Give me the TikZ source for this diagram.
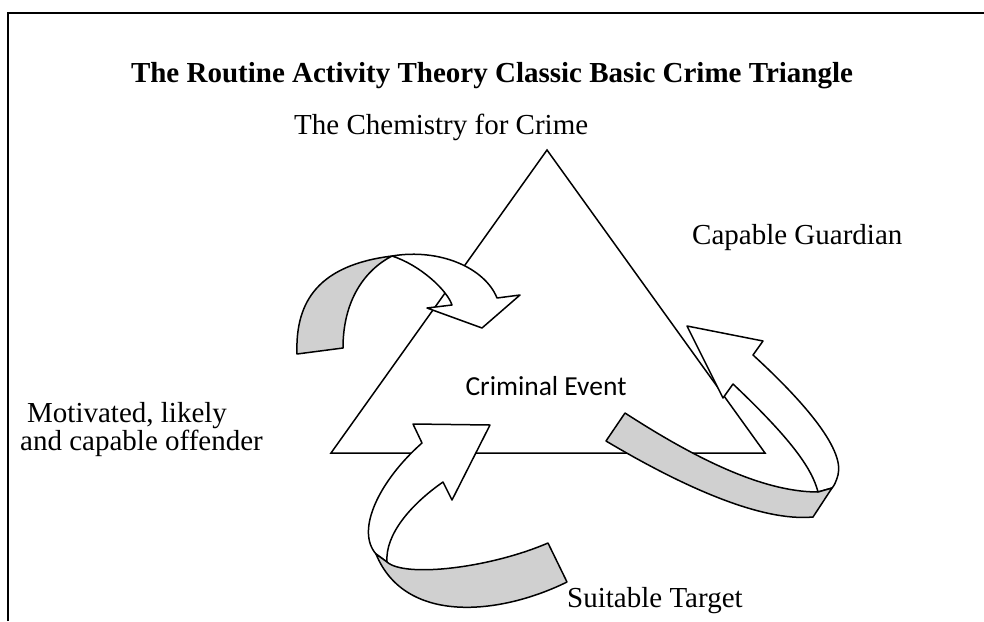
\documentclass[tikz,border=0pt]{standalone}
\usepackage{fontspec}
\setmainfont{Liberation Serif}
\newfontfamily\calibrifont{Carlito}
\definecolor{ribbongrey}{RGB}{208,208,208}
\begin{document}
\begin{tikzpicture}[x=1pt,y=-1pt,
  txt/.style={inner sep=0pt, font=\fontsize{29}{33}\selectfont},
  frameline/.style={line width=1.6pt},
  tri/.style={line width=1.5pt, line join=miter},
  whiteband/.style={draw=black, fill=white, line width=1.5pt, line join=round},
  greyband/.style={draw=black, fill=ribbongrey, line width=1.5pt, line join=round}]
\useasboundingbox (0,0) rectangle (984,621);
% frame
\draw[frameline] (8,621) -- (8,13) -- (984,13);
% title
\node[txt, anchor=base, font=\fontsize{29}{33}\selectfont\bfseries] (title) at (492,82)
  {The Routine Activity Theory Classic Basic Crime Triangle};
\node[txt, anchor=base west] (chem) at (294,134) {The Chemistry for Crime};
\node[txt, anchor=base west] (guard) at (692,244) {Capable Guardian};
\node[txt, anchor=base west] (mot1) at (27,422) {Motivated, likely};
\node[txt, anchor=base west] (mot2) at (20,450) {and capable offender};
\node[txt, anchor=base west] (target) at (567,607) {Suitable Target};
% triangle
\coordinate (apex) at (547,150);
\coordinate (bl) at (331,453);
\coordinate (br) at (765,453);
\draw[tri] (apex) -- (br) -- (bl) -- cycle;
\node[inner sep=0pt, anchor=base, font=\fontsize{27.5}{30}\selectfont\calibrifont] (event) at (546,395) {Criminal Event};
% top-left arrow
\draw[greyband] (297,354) .. controls (295,300) and (320,265) .. (392,256)
  .. controls (365,270) and (343,300) .. (343,348) -- cycle;
\draw[whiteband] (392,256) .. controls (440,248) and (485,268) .. (497,298)
  -- (520,295) -- (482,328) -- (427,308) -- (452,305)
  .. controls (447,290) and (420,265) .. (392,256) -- cycle;
% right arrow
\draw[whiteband] (687,326) -- (763,341) -- (753,355)
  .. controls (800,398) and (845,448) .. (838,475)
  .. controls (836,482) and (834,486) .. (832,488) -- (818,492)
  .. controls (812,468) and (790,438) .. (733,384) -- (723,398) -- cycle;
\draw[greyband] (625,413) .. controls (690,455) and (760,492) .. (818,492)
  -- (832,488) -- (813,517)
  .. controls (760,522) and (680,485) .. (606,441) -- cycle;
% bottom arrow
\draw[whiteband] (490,425) -- (413,424) -- (422,443)
  .. controls (380,480) and (355,530) .. (376,554) -- (387,562)
  .. controls (385,535) and (410,505) .. (443,482) -- (452,500) -- cycle;
\draw[greyband] (376,554) -- (387,562) .. controls (405,578) and (490,568) .. (548,543)
  -- (567,582) .. controls (500,615) and (405,625) .. (376,554) -- cycle;
\end{tikzpicture}
\end{document}
